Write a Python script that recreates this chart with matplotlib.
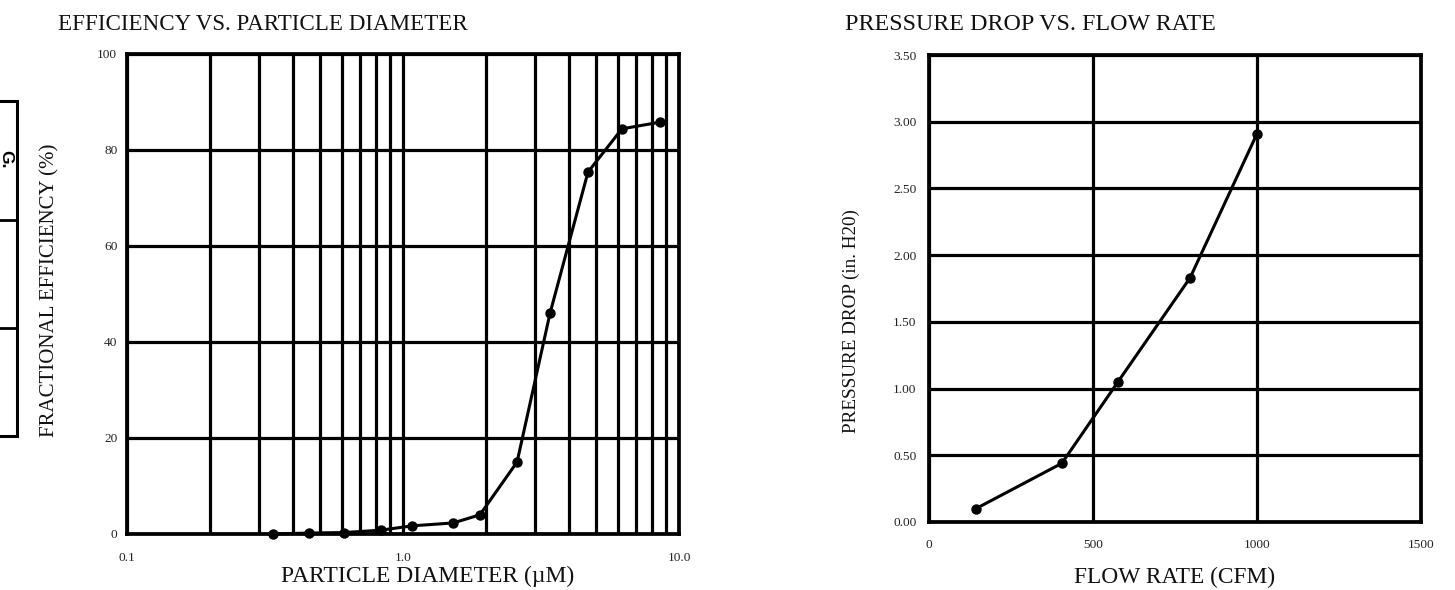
import matplotlib
matplotlib.use('Agg')
import matplotlib.pyplot as plt
from matplotlib.ticker import FixedLocator, FixedFormatter, NullFormatter
from matplotlib.patches import Rectangle
from matplotlib.lines import Line2D

# ---------------- data ----------------
diameter_um = [0.338, 0.456, 0.611, 0.832, 1.08, 1.52, 1.90, 2.59, 3.41, 4.68, 6.21, 8.53]
efficiency_pct = [0.0, 0.2, 0.3, 0.8, 1.7, 2.3, 4.0, 15.0, 46.0, 75.4, 84.4, 85.8]

flow_cfm = [143, 405, 576, 796, 1000]
pressure_drop = [0.10, 0.44, 1.05, 1.83, 2.91]

eff_xticks = [0.1, 1.0, 10.0]
eff_xticklabels = ['0.1', '1.0', '10.0']
eff_xminor = [0.2, 0.3, 0.4, 0.5, 0.6, 0.7, 0.8, 0.9, 2, 3, 4, 5, 6, 7, 8, 9]
eff_yticks = [0, 20, 40, 60, 80, 100]
eff_yticklabels = ['0', '20', '40', '60', '80', '100']

dp_xticks = [0, 500, 1000, 1500]
dp_xticklabels = ['0', '500', '1000', '1500']
dp_yticks = [0.0, 0.5, 1.0, 1.5, 2.0, 2.5, 3.0, 3.5]
dp_yticklabels = ['0.00', '0.50', '1.00', '1.50', '2.00', '2.50', '3.00', '3.50']

# ---------------- style ----------------
W, H = 1455, 590
plt.rcParams['font.family'] = ['Liberation Serif', 'DejaVu Serif']
fig = plt.figure(figsize=(W / 100, H / 100), dpi=100)

def fx(px):
    return px / W

def fy(py):
    return 1 - py / H

GRID_LW = 2.3
SPINE_LW = 2.7
TICK_FS = 9.6
TXT = '#111111'

def style_axes(ax):
    for s in ax.spines.values():
        s.set_linewidth(SPINE_LW)
        s.set_color('black')
    ax.tick_params(which='both', length=0, labelsize=TICK_FS, colors='#222222')
    ax.set_axisbelow(True)

# ---------------- left chart ----------------
ax1 = fig.add_axes([fx(127), fy(534), fx(679) - fx(127), fy(54) - fy(534)])
ax1.set_xscale('log')
ax1.set_xlim(0.1, 10)
ax1.set_ylim(0, 100)
ax1.xaxis.set_major_locator(FixedLocator(eff_xticks))
ax1.xaxis.set_major_formatter(FixedFormatter(eff_xticklabels))
ax1.xaxis.set_minor_locator(FixedLocator(eff_xminor))
ax1.xaxis.set_minor_formatter(NullFormatter())
ax1.yaxis.set_major_locator(FixedLocator(eff_yticks))
ax1.yaxis.set_major_formatter(FixedFormatter(eff_yticklabels))
ax1.grid(True, which='both', axis='x', color='black', linewidth=GRID_LW)
ax1.grid(True, which='major', axis='y', color='black', linewidth=GRID_LW)
style_axes(ax1)
ax1.tick_params(axis='x', pad=13)
ax1.tick_params(axis='y', pad=7)
ax1.plot(diameter_um, efficiency_pct, color='black', linewidth=2.2,
         marker='o', markersize=6.5, clip_on=False, zorder=5)
ax1.set_xlabel('PARTICLE DIAMETER (µM)', fontsize=17, color=TXT)
ax1.xaxis.set_label_coords(0.545, -0.066)
ax1.set_ylabel('FRACTIONAL EFFICIENCY (%)', fontsize=15, color=TXT)
ax1.yaxis.set_label_coords(-0.123, 0.508)
ax1.text(-0.125, 1.05, 'EFFICIENCY VS. PARTICLE DIAMETER', transform=ax1.transAxes,
         fontsize=16.6, ha='left', va='baseline', color=TXT)

# ---------------- right chart ----------------
ax2 = fig.add_axes([fx(929), fy(522), fx(1421) - fx(929), fy(55) - fy(522)])
ax2.set_xlim(0, 1500)
ax2.set_ylim(0, 3.5)
ax2.xaxis.set_major_locator(FixedLocator(dp_xticks))
ax2.xaxis.set_major_formatter(FixedFormatter(dp_xticklabels))
ax2.yaxis.set_major_locator(FixedLocator(dp_yticks))
ax2.yaxis.set_major_formatter(FixedFormatter(dp_yticklabels))
ax2.grid(True, which='major', color='black', linewidth=GRID_LW)
style_axes(ax2)
ax2.tick_params(axis='x', pad=12)
ax2.tick_params(axis='y', pad=9)
ax2.plot(flow_cfm, pressure_drop, color='black', linewidth=2.2,
         marker='o', markersize=6.5, clip_on=False, zorder=5)
ax2.set_xlabel('FLOW RATE (CFM)', fontsize=16.8, color=TXT)
ax2.xaxis.set_label_coords(0.5, -0.096)
ax2.set_ylabel('PRESSURE DROP (in. H20)', fontsize=13.8, color=TXT)
ax2.yaxis.set_label_coords(-0.140, 0.43)
ax2.text(-0.171, 1.054, 'PRESSURE DROP VS. FLOW RATE', transform=ax2.transAxes,
         fontsize=17.3, ha='left', va='baseline', color=TXT)

# ---------------- cut-off box at left edge ----------------
fig.patches.append(Rectangle((fx(-20), fy(436)), fx(17) - fx(-20), fy(101) - fy(436),
                             transform=fig.transFigure, fill=False,
                             edgecolor='black', linewidth=2.2))
for py in (220, 328):
    fig.lines.append(Line2D([fx(-20), fx(17)], [fy(py), fy(py)],
                            transform=fig.transFigure, color='black', linewidth=2.0))
fig.text(fx(1.5), fy(150), 'G.', rotation=-90, rotation_mode='anchor',
         ha='left', va='baseline', fontsize=12.5, fontweight='bold',
         family=['Liberation Sans', 'DejaVu Sans'])

fig.savefig('out.png', dpi=100)
